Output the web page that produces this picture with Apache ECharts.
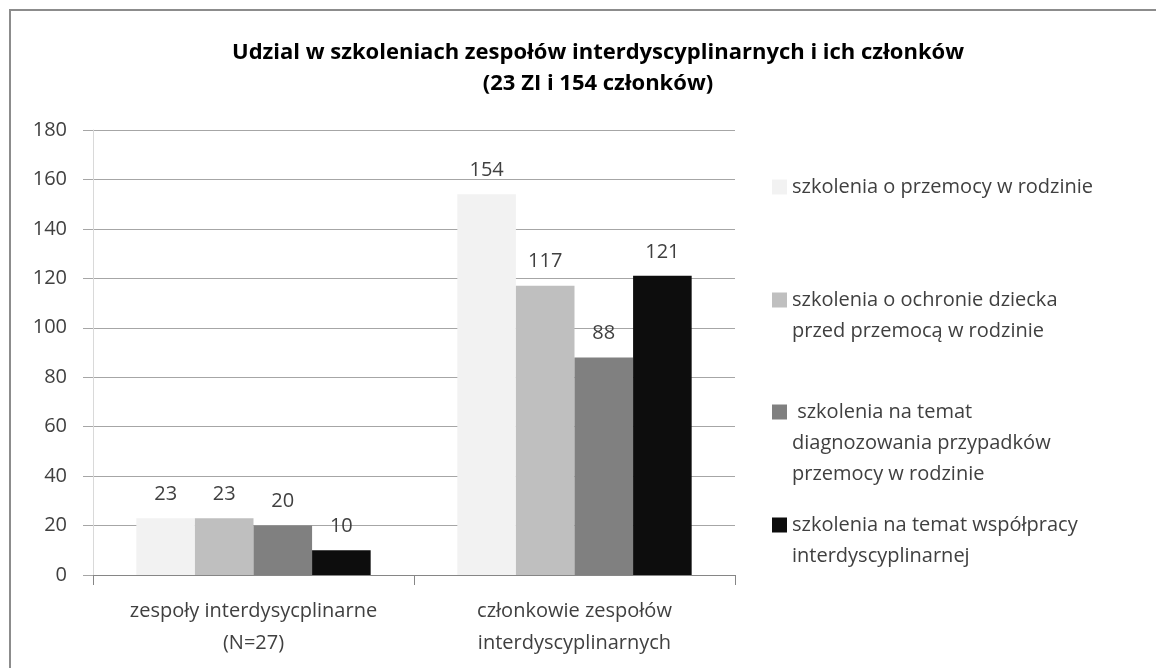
<!DOCTYPE html>
<html>
<head>
<meta charset="utf-8">
<script src="https://cdn.jsdelivr.net/npm/echarts@6/dist/echarts.min.js"></script>
<style>
  html, body { margin: 0; padding: 0; background: #fff; }
  #main { width: 1156px; height: 668px; }
</style>
</head>
<body>
<div id="main"></div>
<script>
// dane z wykresu
var categories = ['zespoły interdysycplinarne\n(N=27)', 'członkowie zespołów\ninterdyscyplinarnych'];
var seriesNames = [
  'szkolenia o przemocy w rodzinie',
  'szkolenia o ochronie dziecka\nprzed przemocą w rodzinie',
  ' szkolenia na temat\ndiagnozowania przypadków\nprzemocy w rodzinie',
  'szkolenia na temat współpracy\ninterdyscyplinarnej'
];
var przemoc = [23, 154];
var ochrona = [23, 117];
var diagnoza = [20, 88];
var wspolpraca = [10, 121];
var yTicks = [0, 20, 40, 60, 80, 100, 120, 140, 160, 180];

var colors = ['#f2f2f2', '#bfbfbf', '#808080', '#0d0d0d'];
var values = [przemoc, ochrona, diagnoza, wspolpraca];
var font = "'Open Sans', sans-serif";
var textColor = '#404040';
var lineH = 31;
// środek pierwszej linii każdej pozycji legendy
var legendY = [187, 300, 412, 525];

// kwadrat przy pierwszej linii tekstu, reszta ikony pusta
function legendIcon(n) {
  var h = n * lineH;
  var t = lineH / 2 - 7.5;
  return 'path://M0,0 M15,' + h + ' M0,' + t + ' L15,' + t + ' L15,' + (t + 15) + ' L0,' + (t + 15) + ' Z';
}

var legends = seriesNames.map(function (name, i) {
  var n = name.split('\n').length;
  return {
    orient: 'vertical',
    left: 767,
    top: legendY[i] - lineH / 2 - 5,
    icon: legendIcon(n),
    itemWidth: 15,
    itemHeight: n * lineH,
    selectedMode: false,
    data: [name],
    textStyle: {
      fontFamily: font,
      fontSize: 20,
      color: textColor,
      lineHeight: lineH
    }
  };
});

var series = seriesNames.map(function (name, i) {
  return {
    name: name,
    type: 'bar',
    data: values[i],
    barGap: '0%',
    barCategoryGap: '27%',
    itemStyle: { color: colors[i] },
    label: {
      show: true,
      position: 'top',
      distance: 14,
      fontFamily: font,
      fontSize: 20,
      color: textColor
    }
  };
});

var myChart = echarts.init(document.getElementById('main'));
var option = {
  animation: false,
  backgroundColor: '#fff',
  title: {
    text: 'Udzial w szkoleniach zespołów interdyscyplinarnych i ich członków\n(23 ZI i 154 członków)',
    left: 593,
    textAlign: 'center',
    top: 32,
    textStyle: {
      fontFamily: font,
      fontSize: 22,
      fontWeight: 'bold',
      color: '#000',
      lineHeight: 31
    }
  },
  graphic: [{
    type: 'polyline',
    shape: { points: [[10, 668], [10, 10], [1156, 10]] },
    style: { stroke: '#8c8c8c', lineWidth: 2, fill: null }
  }],
  legend: legends,
  grid: { left: 93, right: 421, top: 130, bottom: 93 },
  xAxis: {
    type: 'category',
    data: categories,
    axisLine: { lineStyle: { color: '#868686', width: 1 } },
    axisTick: { show: true, length: 10, lineStyle: { color: '#868686' } },
    axisLabel: {
      interval: 0,
      fontFamily: font,
      fontSize: 20,
      color: textColor,
      lineHeight: 32,
      margin: 20
    }
  },
  yAxis: {
    type: 'value',
    min: 0,
    max: 180,
    interval: 20,
    axisLine: { show: true, lineStyle: { color: '#d9d9d9' } },
    axisTick: { show: true, length: 10, lineStyle: { color: '#a6a6a6' } },
    splitLine: { lineStyle: { color: '#a6a6a6', width: 1 } },
    axisLabel: {
      fontFamily: font,
      fontSize: 20,
      color: textColor,
      margin: 26,
      formatter: function (v) { return yTicks.indexOf(v) >= 0 ? String(v) : ''; }
    }
  },
  series: series
};
myChart.setOption(option);
</script>
</body>
</html>
